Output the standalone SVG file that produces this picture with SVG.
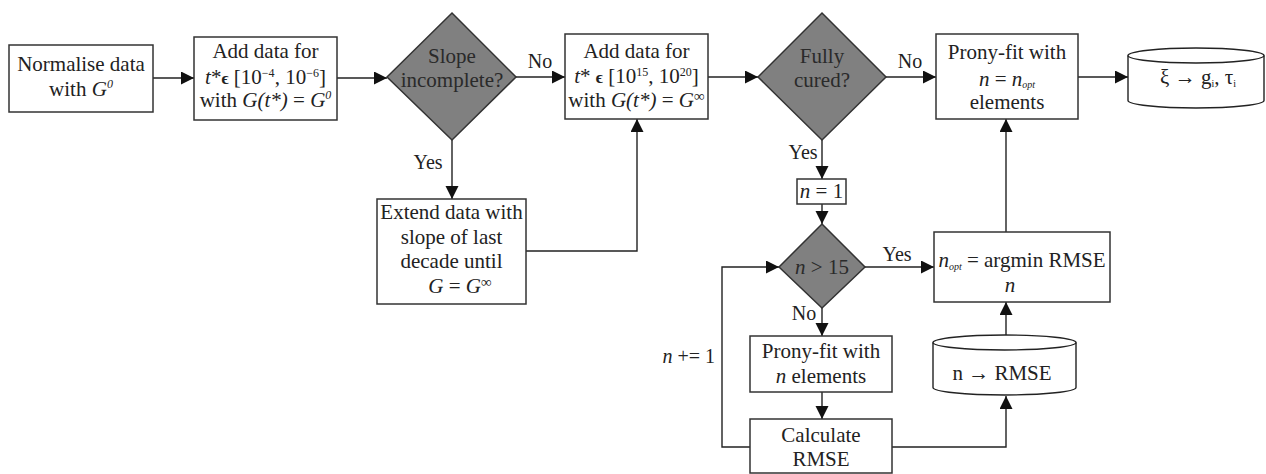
<svg xmlns="http://www.w3.org/2000/svg" width="1266" height="474" viewBox="0 0 1266 474">
<style>
text{font-family:"Liberation Serif","Times New Roman",serif;font-size:21px;fill:#222;text-anchor:middle}
.box{fill:#fff;stroke:#333;stroke-width:1.5}
.dia{fill:#808080;stroke:#333;stroke-width:1.5}
.dia-t{fill:#2a2a2a}
.cyl{fill:#fff;stroke:#222;stroke-width:1.4}
.line{fill:none;stroke:#222;stroke-width:1.4}
.arr{marker-end:url(#ah)}
.i{font-style:italic}
.sup{font-size:12px}
.inf{font-size:15px}
.sub{font-size:10px;font-style:italic}
.lbl{font-size:20px}
.el{font-weight:bold;font-size:17px}
</style>
<defs>
<marker id="ah" markerUnits="userSpaceOnUse" markerWidth="14" markerHeight="14" refX="13" refY="6.5" orient="auto">
<path d="M0,0 L13,6.5 L0,13 z" fill="#111"/>
</marker>
</defs>

<g id="connectors">
<path class="line arr" d="M153,78 H194"/>
<path class="line arr" d="M337,78 H387"/>
<path class="line arr" d="M452,140 V199"/>
<path class="line arr" d="M526,251 H637 V119"/>
<path class="line arr" d="M516,77 H565"/>
<path class="line arr" d="M708,77 H758"/>
<path class="line arr" d="M886,77 H936"/>
<path class="line arr" d="M1078,77 H1128"/>
<path class="line arr" d="M822,140 V179"/>
<path class="line arr" d="M822,204 V224"/>
<path class="line arr" d="M865,267 H934"/>
<path class="line arr" d="M822,308 V336"/>
<path class="line arr" d="M822,392 V419"/>
<path class="line arr" d="M750,447 H722 V267 H779"/>
<path class="line arr" d="M892,447 H1006 V396"/>
<path class="line arr" d="M1006,335 V302"/>
<path class="line arr" d="M1006,232 V119"/>
<text class="lbl" x="540" y="68">No</text>
<text class="lbl" x="428" y="169">Yes</text>
<text class="lbl" x="910" y="68">No</text>
<text class="lbl" x="803" y="159">Yes</text>
<text class="lbl" x="897" y="261">Yes</text>
<text class="lbl" x="804" y="320">No</text>
<text class="lbl" x="715" y="363" style="text-anchor:end"><tspan class="i">n</tspan> += 1</text>
</g>

<g id="normalise">
<rect class="box" x="9" y="45" width="144" height="67"/>
<text x="81" y="71">Normalise data</text>
<text x="81" y="96">with <tspan class="i">G</tspan><tspan class="sup i" dy="-8">0</tspan></text>
</g>

<g id="add-low">
<rect class="box" x="194" y="37" width="143" height="83"/>
<text x="265.5" y="58">Add data for</text>
<text x="265.5" y="84"><tspan class="i">t</tspan>*<tspan class="el">ϵ</tspan> [10<tspan class="sup" dy="-7">−4</tspan><tspan dy="7">, 10</tspan><tspan class="sup" dy="-7">−6</tspan><tspan dy="7">]</tspan></text>
<text x="265.5" y="107">with <tspan class="i">G(t*)</tspan> = <tspan class="i">G</tspan><tspan class="sup i" dy="-8">0</tspan></text>
</g>

<g id="slope-incomplete">
<polygon class="dia" points="387,77 452,13 516,77 452,140"/>
<text class="dia-t" x="452" y="63">Slope</text>
<text class="dia-t" x="452" y="87">incomplete?</text>
</g>

<g id="extend">
<rect class="box" x="377" y="199" width="149" height="105"/>
<text x="451.5" y="219">Extend data with</text>
<text x="451.5" y="244">slope of last</text>
<text x="451.5" y="268">decade until</text>
<text x="460" y="293"><tspan class="i">G</tspan> = <tspan class="i">G</tspan><tspan class="inf" dy="-6">∞</tspan></text>
</g>

<g id="add-high">
<rect class="box" x="565" y="34" width="143" height="85"/>
<text x="636.5" y="58">Add data for</text>
<text x="636.5" y="83"><tspan class="i">t</tspan>* <tspan class="el">ϵ</tspan> [10<tspan class="sup" dy="-7">15</tspan><tspan dy="7">, 10</tspan><tspan class="sup" dy="-7">20</tspan><tspan dy="7">]</tspan></text>
<text x="636.5" y="107">with <tspan class="i">G(t*)</tspan> = <tspan class="i">G</tspan><tspan class="inf" dy="-6">∞</tspan></text>
</g>

<g id="fully-cured">
<polygon class="dia" points="758,77 822,13 886,77 822,140"/>
<text class="dia-t" x="822" y="63">Fully</text>
<text class="dia-t" x="822" y="87">cured?</text>
</g>

<g id="prony-opt">
<rect class="box" x="936" y="34" width="142" height="85"/>
<text x="1007" y="59">Prony-fit with</text>
<text x="1007" y="86"><tspan class="i">n</tspan> = <tspan class="i">n</tspan><tspan class="sub" dy="2">opt</tspan></text>
<text x="1007" y="109">elements</text>
</g>

<g id="result-store">
<path class="cyl" d="M1128,55.5 V100.5 A68,7.5 0 0 0 1264,100.5 V55.5"/>
<ellipse class="cyl" cx="1196" cy="55.5" rx="68" ry="7.5"/>
<text x="1198" y="84">ξ → g<tspan class="sub" style="font-style:normal" dy="3">i</tspan><tspan dy="-3">,</tspan> τ<tspan class="sub" style="font-style:normal" dy="3">i</tspan></text>
</g>

<g id="n-init">
<rect class="box" x="797" y="179" width="49" height="25"/>
<text x="821.5" y="198"><tspan class="i">n</tspan> = 1</text>
</g>

<g id="n-check">
<polygon class="dia" points="779,267 822,224 865,267 822,308"/>
<text class="dia-t" x="822" y="274"><tspan class="i">n</tspan> &gt; 15</text>
</g>

<g id="argmin">
<rect class="box" x="934" y="232" width="176" height="70"/>
<text x="1022" y="267"><tspan class="i">n</tspan><tspan class="sub" dy="3">opt</tspan><tspan dy="-3"> = argmin RMSE</tspan></text>
<text class="i" x="1010" y="292">n</text>
</g>

<g id="prony-n">
<rect class="box" x="750" y="336" width="142" height="56"/>
<text x="821" y="358">Prony-fit with</text>
<text x="821" y="383"><tspan class="i">n</tspan> elements</text>
</g>

<g id="calc-rmse">
<rect class="box" x="750" y="419" width="142" height="54"/>
<text x="821" y="442">Calculate</text>
<text x="821" y="466">RMSE</text>
</g>

<g id="rmse-store">
<path class="cyl" d="M933,342.5 V387.5 A71.5,7.5 0 0 0 1076,387.5 V342.5"/>
<ellipse class="cyl" cx="1004.5" cy="342.5" rx="71.5" ry="7.5"/>
<text x="1002" y="380">n → RMSE</text>
</g>
</svg>
